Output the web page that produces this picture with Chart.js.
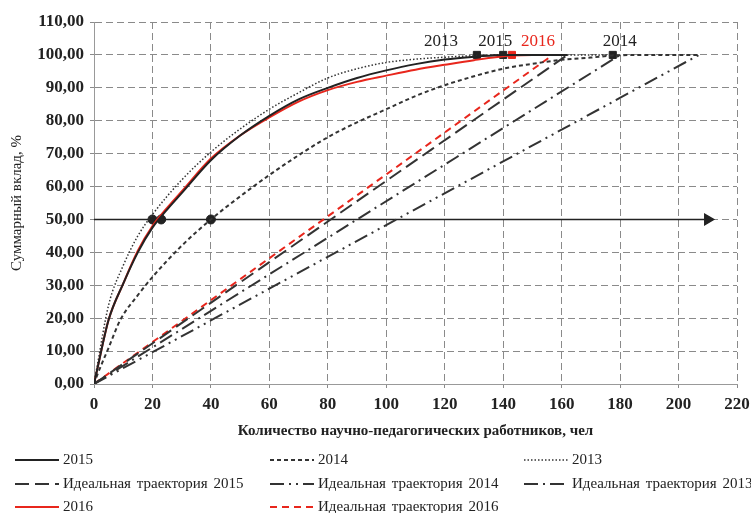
<!DOCTYPE html>
<html>
<head>
<meta charset="utf-8">
<script src="https://cdn.jsdelivr.net/npm/chart.js@4"></script>
<style>
  html, body { margin: 0; padding: 0; background: #fff; }
  #wrap { width: 751px; height: 513px; }
</style>
</head>
<body>
<div id="wrap"><canvas id="chart" width="751" height="513"></canvas></div>
<script>
// Накопленный вклад по годам (x - кол-во работников, y - %)
const x2015 = [0, 1, 5, 10, 15, 20, 25, 30, 40, 50, 60, 70, 80, 90, 100, 110, 120, 131, 140, 150, 162];
const y2015 = [0, 4, 19.5, 30.5, 40, 47.5, 53, 58, 68, 75.5, 81.5, 86.5, 90, 93, 95.3, 97.2, 98.6, 99.5, 100, 100, 100];

const x2016 = [0, 1, 5, 10, 15, 20, 25, 30, 40, 50, 60, 70, 80, 90, 100, 110, 120, 130, 143, 150, 157];
const y2016 = [0, 4, 19.5, 30.5, 40.5, 48, 53.5, 58.5, 68.5, 75.5, 81, 85.8, 89.3, 91.8, 93.7, 95.5, 97, 98.4, 99.8, 100, 100];

const x2013 = [0, 1, 5, 10, 15, 20, 30, 40, 50, 60, 70, 80, 90, 100, 110, 120, 131, 140, 160, 180];
const y2013 = [0, 5, 24, 36, 45, 51.5, 62, 70.5, 77.5, 83.5, 88.5, 93, 95.8, 97.7, 98.7, 99.3, 99.8, 100, 100, 100];

const x2014 = [0, 1, 5, 9, 15, 20, 30, 40, 50, 60, 70, 80, 90, 100, 110, 120, 130, 140, 150, 160, 170, 177.5, 190, 207];
const y2014 = [0, 2.5, 11, 19.5, 27, 32.5, 42, 50, 57, 63.5, 69.5, 75, 79.5, 83.5, 87.5, 90.8, 93.5, 95.8, 97.3, 98.5, 99.2, 99.8, 100, 100];

// Идеальные траектории: от 0 до полного состава
const idealYears = ['2015', '2014', '2013', '2016'];
const idealEnds = [162, 207, 180, 157];

// Отметки 50% и 100%
const halfX = [20, 23, 40];
const halfY = [50, 50, 50];
const markYears = ['2013', '2015', '2016', '2014'];
const markX = [131, 140, 143, 177.5];
const markY = [100, 100, 100, 100];
const arrowX = [0, 210];
const arrowY = [50, 50];

const xTicks = [0, 20, 40, 60, 80, 100, 120, 140, 160, 180, 200, 220];

const SERIF = '"Liberation Serif", "DejaVu Serif", serif';
const RED = '#e8261c';
const DARK = '#222';

function pts(xs, ys) {
    return xs.map((x, i) => ({ x: x, y: ys[i] }));
}

function ideal(year) {
    const end = idealEnds[idealYears.indexOf(year)];
    return [{ x: 0, y: 0 }, { x: end, y: 100 }];
}

const datasets = [
    { label: '2015', data: pts(x2015, y2015), borderColor: DARK, borderWidth: 2 },
    { label: '2014', data: pts(x2014, y2014), borderColor: '#333', borderWidth: 2, borderDash: [4, 3] },
    { label: '2013', data: pts(x2013, y2013), borderColor: '#333', borderWidth: 1.5, borderDash: [1.5, 2] },
    { label: 'Идеальная траектория 2015', data: ideal('2015'), borderColor: '#333', borderWidth: 2, borderDash: [14, 6] },
    { label: 'Идеальная траектория 2014', data: ideal('2014'), borderColor: '#333', borderWidth: 2, borderDash: [14, 5, 2, 5, 2, 5] },
    { label: 'Идеальная траектория 2013', data: ideal('2013'), borderColor: '#333', borderWidth: 2, borderDash: [14, 5, 2, 5] },
    { label: '2016', data: pts(x2016, y2016), borderColor: RED, borderWidth: 2 },
    { label: 'Идеальная траектория 2016', data: ideal('2016'), borderColor: RED, borderWidth: 2, borderDash: [7, 5] }
].map(d => Object.assign({ showLine: true, pointRadius: 0, tension: 0.4, cubicInterpolationMode: 'monotone', fill: false }, d));

const LEGEND_COUNT = datasets.length;

datasets.push({
    label: '', data: pts(arrowX, arrowY), showLine: true, borderColor: DARK, borderWidth: 1.5,
    pointRadius: [0, 6], pointStyle: 'triangle', rotation: 90, backgroundColor: DARK, pointBorderColor: DARK
});
datasets.push({
    label: '', data: pts(halfX, halfY), showLine: false, pointRadius: 4.5,
    backgroundColor: DARK, borderColor: DARK
});
datasets.push({
    label: '', data: pts(markX, markY), showLine: false, pointStyle: 'rect', pointRadius: 5,
    backgroundColor: markYears.map(y => y === '2016' ? RED : DARK),
    borderColor: markYears.map(y => y === '2016' ? RED : DARK)
});

// подписи годов над квадратами
const yearLabels = {
    id: 'yearLabels',
    afterDatasetsDraw(chart) {
        const { ctx, scales: { x, y } } = chart;
        const shift = { '2013': -36, '2015': -8, '2016': 26, '2014': 7 };
        ctx.save();
        ctx.font = '17px ' + SERIF;
        ctx.textAlign = 'center';
        ctx.textBaseline = 'middle';
        markYears.forEach((yr, i) => {
            ctx.fillStyle = yr === '2016' ? RED : DARK;
            ctx.fillText(yr, x.getPixelForValue(markX[i]) + shift[yr], y.getPixelForValue(markY[i]) - 13);
        });
        ctx.restore();
    }
};

// легенда в три колонки под графиком
const gridLegend = {
    id: 'gridLegend',
    afterDraw(chart) {
        const ctx = chart.ctx;
        const cols = [15, 270, 524];
        const rows = [460, 484, 507];
        ctx.save();
        ctx.font = '15px ' + SERIF;
        ctx.wordSpacing = '2px';
        ctx.textBaseline = 'middle';
        ctx.fillStyle = DARK;
        for (let i = 0; i < LEGEND_COUNT; i++) {
            const ds = chart.data.datasets[i];
            const cx = cols[i % 3];
            const cy = rows[Math.floor(i / 3)];
            ctx.strokeStyle = ds.borderColor;
            ctx.lineWidth = ds.borderWidth;
            ctx.setLineDash(ds.borderDash || []);
            ctx.beginPath();
            ctx.moveTo(cx, cy);
            ctx.lineTo(cx + 44, cy);
            ctx.stroke();
            ctx.setLineDash([]);
            ctx.fillText(ds.label, cx + 48, cy);
        }
        ctx.restore();
    }
};

new Chart(document.getElementById('chart'), {
    type: 'scatter',
    data: { datasets: datasets },
    plugins: [yearLabels, gridLegend],
    options: {
        responsive: false,
        animation: false,
        devicePixelRatio: 1,
        layout: { padding: { left: 0, right: 0, top: 22, bottom: 69 } },
        plugins: { legend: { display: false }, tooltip: { enabled: false } },
        scales: {
            x: {
                type: 'linear', min: 0, max: 220,
                afterBuildTicks: s => { s.ticks = xTicks.map(v => ({ value: v })); },
                afterFit: s => { s.height = 60; s.paddingRight = 14; },
                grid: { color: '#8a8a8a', lineWidth: 1, tickLength: 4 },
                border: { display: true, color: '#999', width: 1, dash: [7, 4] },
                ticks: { color: DARK, padding: 6, maxRotation: 0, font: { family: SERIF, size: 17, weight: 'bold' } },
                title: {
                    display: true, text: 'Количество научно-педагогических работников, чел',
                    color: DARK, padding: { top: 6 }, font: { family: SERIF, size: 15, weight: 'bold' }
                }
            },
            y: {
                min: 0, max: 110,
                afterFit: s => { s.width = 94; },
                grid: { color: '#8a8a8a', lineWidth: 1, tickLength: 4 },
                border: { display: true, color: '#999', width: 1, dash: [7, 4] },
                ticks: {
                    stepSize: 10, color: DARK, padding: 6,
                    font: { family: SERIF, size: 17, weight: 'bold' },
                    callback: v => v.toFixed(2).replace('.', ',')
                },
                title: {
                    display: true, text: 'Суммарный вклад, %', color: DARK,
                    padding: { top: 8, bottom: 2 }, font: { family: SERIF, size: 15 }
                }
            }
        }
    }
});
</script>
</body>
</html>
